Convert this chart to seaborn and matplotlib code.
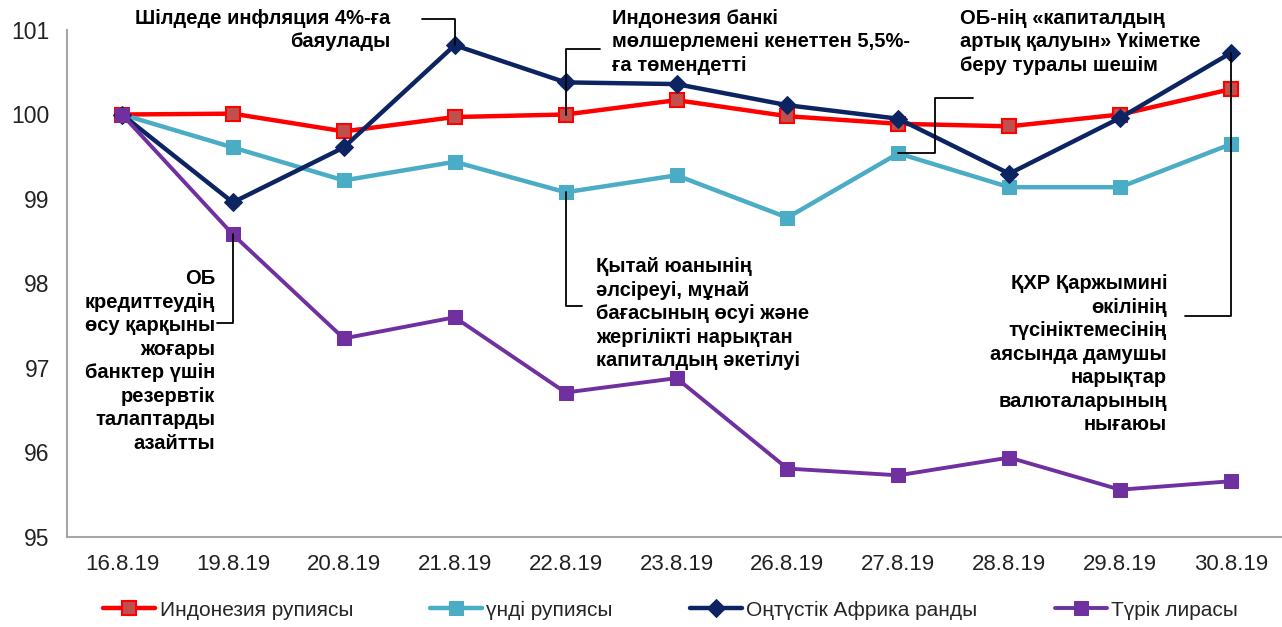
import matplotlib
matplotlib.use("Agg")
import matplotlib.pyplot as plt
import seaborn as sns
import numpy as np
import pandas as pd

dates = ["16.8.19", "19.8.19", "20.8.19", "21.8.19", "22.8.19", "23.8.19",
         "26.8.19", "27.8.19", "28.8.19", "29.8.19", "30.8.19"]
indonesia = [100.0, 100.01, 99.80, 99.97, 100.0, 100.17, 99.98, 99.89, 99.86, 100.0, 100.30]
india = [100.0, 99.61, 99.22, 99.44, 99.08, 99.28, 98.78, 99.54, 99.14, 99.14, 99.65]
south_africa = [100.0, 98.96, 99.61, 100.82, 100.38, 100.36, 100.11, 99.95, 99.30, 99.96, 100.73]
turkey = [100.0, 98.58, 97.35, 97.60, 96.71, 96.88, 95.81, 95.73, 95.94, 95.56, 95.66]
series_names = ["Индонезия рупиясы", "үнді рупиясы", "Оңтүстік Африка ранды", "Түрік лирасы"]
y_ticks = [95, 96, 97, 98, 99, 100, 101]

sns.set_style("white")
plt.rcParams['font.family'] = ['Liberation Sans', 'DejaVu Sans']

fig = plt.figure(figsize=(12.82, 6.27), dpi=100)
ax = fig.add_axes([66.5 / 1282, 1 - 537 / 627, 1220 / 1282, (537 - 30) / 627])

x = np.arange(len(dates))
styles = [
    dict(color="#FF0000", marker="s", markersize=9.5, markerfacecolor="#C0504D",
         markeredgecolor="#FF0000", markeredgewidth=1.5, linewidth=3.2),
    dict(color="#4BACC6", marker="s", markersize=9.5, markerfacecolor="#4BACC6",
         markeredgecolor="#4BACC6", linewidth=3.2),
    dict(color="#0C2461", marker="D", markersize=9.5, markerfacecolor="#0C2461",
         markeredgecolor="#0C2461", linewidth=3.2),
    dict(color="#7030A0", marker="s", markersize=9.5, markerfacecolor="#7030A0",
         markeredgecolor="#7030A0", linewidth=2.8),
]
data = [indonesia, india, south_africa, turkey]
for name, vals, st in zip(series_names, data, styles):
    df = pd.DataFrame({"x": x, "y": vals})
    sns.lineplot(data=df, x="x", y="y", ax=ax, label=name, **st)

ax.set_xlim(-0.5, 10.5)
ax.set_ylim(95, 101)
ax.set_yticks(y_ticks)
ax.set_yticklabels([str(t) for t in y_ticks], fontsize=16.5, color="#222222")
ax.set_xticks(x)
ax.set_xticklabels(dates, fontsize=16, color="#222222")
ax.set_xticks(np.arange(-0.5, 10.6, 1), minor=True)
ax.tick_params(axis="x", which="major", length=0, pad=12)
ax.tick_params(axis="x", which="minor", length=7, width=1.2, color="#A6A6A6", direction="out")
ax.tick_params(axis="y", which="major", length=6, width=1.2, color="#A6A6A6", direction="out", pad=6)
ax.set_xlabel("")
ax.set_ylabel("")
for s in ["top", "right"]:
    ax.spines[s].set_visible(False)
for s in ["left", "bottom"]:
    ax.spines[s].set_color("#A6A6A6")
    ax.spines[s].set_linewidth(1.5)

# annotations
tfont = dict(fontsize=14.5, fontweight="bold", color="black", linespacing=1.3)
ax.text(2.417, 101.254, "Шілдеде инфляция 4%-ға\nбаяулады", ha="right", va="top", multialignment="right", **tfont)
ax.text(4.418, 101.254, "Индонезия банкі\nмөлшерлемені кенеттен 5,5%-\nға төмендетті", ha="left", va="top", **tfont)
ax.text(7.556, 101.254, "ОБ-нің «капиталдың\nартық қалуын» Үкіметке\nберу туралы шешім", ha="left", va="top", **tfont)
ax.text(4.274, 98.31, "Қытай юанынің\nәлсіреуі, мұнай\nбағасының өсуі және\nжергілікті нарықтан\nкапиталдың әкетілуі",
        ha="left", va="top", **tfont)
ax.text(0.839, 98.17, "ОБ\nкредиттеудің\nөсу қарқыны\nжоғары\nбанктер үшін\nрезервтік\nталаптарды\nазайтты",
        ha="right", va="top", multialignment="right", **tfont)
ax.text(9.423, 98.11, "ҚХР Қаржымині\nөкілінің\nтүсініктемесінің\nаясында дамушы\nнарықтар\nвалюталарының\nнығаюы",
        ha="right", va="top", multialignment="right", **tfont)

lk = dict(color="black", linewidth=1.3, clip_on=False, zorder=5)
ax.plot([2.705, 3.0, 3.0], [101.136, 101.136, south_africa[3]], **lk)
ax.plot([4.31, 4.0, 4.0], [100.77, 100.77, indonesia[4]], **lk)
ax.plot([7.67, 7.33, 7.33, 7.0], [100.2, 100.2, india[7], india[7]], **lk)
ax.plot([4.0, 4.0, 4.15], [india[4], 97.73, 97.73], **lk)
ax.plot([1.0, 1.0, 0.86], [turkey[1], 97.53, 97.53], **lk)
ax.plot([10.0, 10.0, 9.585], [south_africa[10], 97.62, 97.62], **lk)

handles, labels = ax.get_legend_handles_labels()
ax.get_legend().remove()
fig.legend(handles, labels, loc="center", bbox_to_anchor=(0.523, 1 - 610 / 627), ncol=4,
           frameon=False, fontsize=15, handlelength=2.5, columnspacing=3.7, handletextpad=0.2)

fig.savefig("out.png", dpi=100)
